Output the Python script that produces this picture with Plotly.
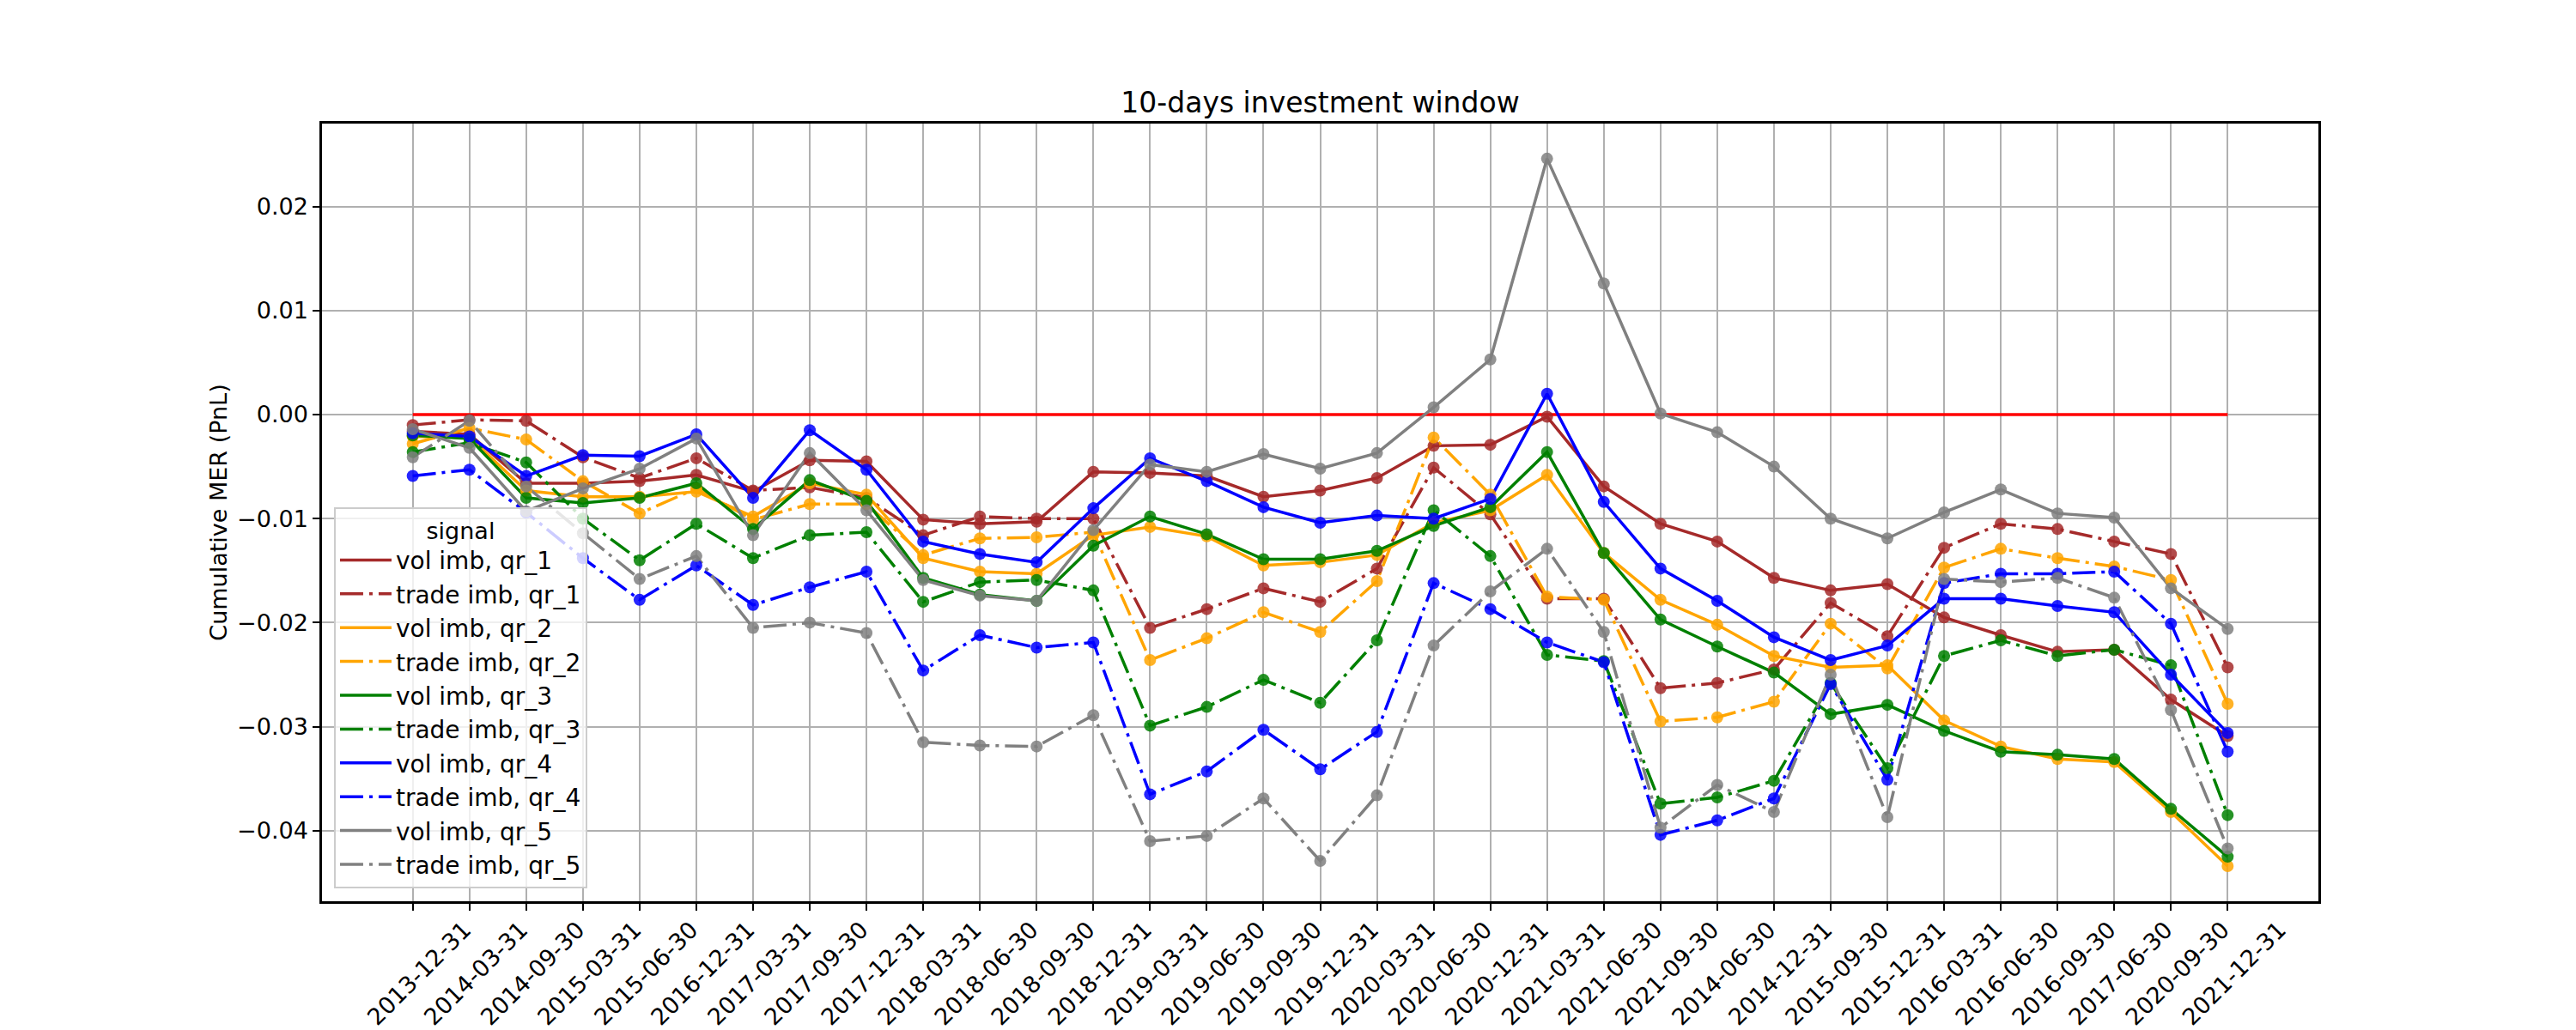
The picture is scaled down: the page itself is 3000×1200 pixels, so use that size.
import plotly.graph_objects as go

# Fechas (eje categórico, en el orden del gráfico original)
dates = ["2013-12-31", "2014-03-31", "2014-09-30", "2015-03-31", "2015-06-30",
         "2016-12-31", "2017-03-31", "2017-09-30", "2017-12-31", "2018-03-31",
         "2018-06-30", "2018-09-30", "2018-12-31", "2019-03-31", "2019-06-30",
         "2019-09-30", "2019-12-31", "2020-03-31", "2020-06-30", "2020-12-31",
         "2021-03-31", "2021-06-30", "2021-09-30", "2014-06-30", "2014-12-31",
         "2015-09-30", "2015-12-31", "2016-03-31", "2016-06-30", "2016-09-30",
         "2017-06-30", "2020-09-30", "2021-12-31"]

# Cumulative MER por señal y quintil
vol_qr_1 = [-0.0016, -0.0019, -0.0066, -0.0066, -0.0064, -0.0058, -0.0074, -0.0044, -0.0045, -0.0101,
            -0.0105, -0.0103, -0.0055, -0.0056, -0.0059, -0.0079, -0.0073, -0.0061, -0.0030, -0.0029,
            -0.0002, -0.0069, -0.0105, -0.0122, -0.0157, -0.0169, -0.0163, -0.0195, -0.0212, -0.0228,
            -0.0226, -0.0274, -0.0309]
trade_qr_1 = [-0.0010, -0.0005, -0.0006, -0.0041, -0.0061, -0.0042, -0.0073, -0.0070, -0.0080, -0.0116,
              -0.0098, -0.0100, -0.0100, -0.0205, -0.0187, -0.0167, -0.0180, -0.0148, -0.0051, -0.0096,
              -0.0177, -0.0177, -0.0263, -0.0258, -0.0245, -0.0181, -0.0213, -0.0128, -0.0105, -0.0110,
              -0.0122, -0.0134, -0.0243]
vol_qr_2 = [-0.0021, -0.0022, -0.0073, -0.0079, -0.0079, -0.0074, -0.0098, -0.0066, -0.0077, -0.0138,
            -0.0151, -0.0153, -0.0116, -0.0108, -0.0117, -0.0145, -0.0142, -0.0135, -0.0104, -0.0092,
            -0.0058, -0.0133, -0.0178, -0.0202, -0.0232, -0.0243, -0.0241, -0.0294, -0.0319, -0.0331,
            -0.0334, -0.0382, -0.0434]
trade_qr_2 = [-0.0028, -0.0013, -0.0024, -0.0064, -0.0095, -0.0071, -0.0101, -0.0086, -0.0086, -0.0135,
              -0.0119, -0.0118, -0.0113, -0.0236, -0.0215, -0.0190, -0.0209, -0.0160, -0.0022, -0.0077,
              -0.0175, -0.0178, -0.0295, -0.0291, -0.0276, -0.0201, -0.0244, -0.0147, -0.0129, -0.0138,
              -0.0146, -0.0159, -0.0278]
vol_qr_3 = [-0.0020, -0.0023, -0.0080, -0.0085, -0.0080, -0.0066, -0.0110, -0.0063, -0.0083, -0.0157,
            -0.0173, -0.0179, -0.0126, -0.0098, -0.0115, -0.0139, -0.0139, -0.0131, -0.0107, -0.0089,
            -0.0036, -0.0133, -0.0197, -0.0223, -0.0248, -0.0288, -0.0279, -0.0304, -0.0324, -0.0327,
            -0.0331, -0.0379, -0.0425]
trade_qr_3 = [-0.0036, -0.0027, -0.0046, -0.0100, -0.0140, -0.0105, -0.0138, -0.0116, -0.0113, -0.0180,
              -0.0161, -0.0159, -0.0169, -0.0299, -0.0281, -0.0255, -0.0277, -0.0217, -0.0092, -0.0136,
              -0.0231, -0.0237, -0.0374, -0.0368, -0.0352, -0.0258, -0.0340, -0.0232, -0.0217, -0.0232,
              -0.0226, -0.0241, -0.0385]
vol_qr_4 = [-0.0018, -0.0021, -0.0059, -0.0039, -0.0040, -0.0019, -0.0080, -0.0015, -0.0053, -0.0122,
            -0.0134, -0.0142, -0.0090, -0.0042, -0.0064, -0.0089, -0.0104, -0.0097, -0.0100, -0.0081,
            0.0020, -0.0084, -0.0148, -0.0179, -0.0214, -0.0236, -0.0222, -0.0177, -0.0177, -0.0184,
            -0.0190, -0.0250, -0.0306]
trade_qr_4 = [-0.0059, -0.0053, -0.0094, -0.0138, -0.0178, -0.0145, -0.0183, -0.0166, -0.0151, -0.0246,
              -0.0212, -0.0224, -0.0219, -0.0365, -0.0343, -0.0303, -0.0341, -0.0305, -0.0162, -0.0187,
              -0.0219, -0.0238, -0.0404, -0.0390, -0.0369, -0.0259, -0.0351, -0.0162, -0.0153, -0.0153,
              -0.0151, -0.0201, -0.0324]
vol_qr_5 = [-0.0014, -0.0032, -0.0093, -0.0071, -0.0052, -0.0023, -0.0116, -0.0037, -0.0092, -0.0159,
            -0.0174, -0.0179, -0.0111, -0.0048, -0.0055, -0.0038, -0.0052, -0.0037, 0.0007, 0.0053,
            0.0246, 0.0126, 0.0001, -0.0017, -0.0050, -0.0100, -0.0119, -0.0094, -0.0072, -0.0095,
            -0.0099, -0.0167, -0.0206]
trade_qr_5 = [-0.0041, -0.0006, -0.0069, -0.0114, -0.0158, -0.0136, -0.0205, -0.0200, -0.0210, -0.0315,
              -0.0318, -0.0319, -0.0289, -0.0410, -0.0405, -0.0369, -0.0429, -0.0366, -0.0222, -0.0170,
              -0.0129, -0.0209, -0.0397, -0.0356, -0.0382, -0.0250, -0.0387, -0.0158, -0.0161, -0.0157,
              -0.0176, -0.0284, -0.0417]

zero_line = [0.0] * len(dates)

y_ticks = [-0.04, -0.03, -0.02, -0.01, 0.0, 0.01, 0.02]
y_tick_labels = ["\u22120.04", "\u22120.03", "\u22120.02", "\u22120.01", "0.00", "0.01", "0.02"]

series = [
    ("vol imb, qr_1", vol_qr_1, "brown", "solid"),
    ("trade imb, qr_1", trade_qr_1, "brown", "dashdot"),
    ("vol imb, qr_2", vol_qr_2, "orange", "solid"),
    ("trade imb, qr_2", trade_qr_2, "orange", "dashdot"),
    ("vol imb, qr_3", vol_qr_3, "green", "solid"),
    ("trade imb, qr_3", trade_qr_3, "green", "dashdot"),
    ("vol imb, qr_4", vol_qr_4, "blue", "solid"),
    ("trade imb, qr_4", trade_qr_4, "blue", "dashdot"),
    ("vol imb, qr_5", vol_qr_5, "gray", "solid"),
    ("trade imb, qr_5", trade_qr_5, "gray", "dashdot"),
]

FONT = "DejaVu Sans"
DASHDOT = "27px,7px,4px,7px"

fig = go.Figure()

# Línea de referencia en cero
fig.add_trace(go.Scatter(x=dates, y=zero_line, mode="lines",
                         line=dict(color="red", width=3.5), showlegend=False, hoverinfo="skip"))

# Líneas (con leyenda)
for name, vals, color, style in series:
    fig.add_trace(go.Scatter(
        x=dates, y=vals, mode="lines", name=name,
        line=dict(color=color, width=3.5, dash=DASHDOT if style == "dashdot" else "solid"),
    ))

# Marcadores (sin leyenda)
for name, vals, color, style in series:
    fig.add_trace(go.Scatter(
        x=dates, y=vals, mode="markers", showlegend=False,
        marker=dict(color=color, size=14, opacity=0.85, line=dict(width=0)),
    ))

# el body de la página tiene 8px de margen: la figura se reduce para que quepa en la ventana
fig.update_layout(
    width=2992, height=1192,
    margin=dict(l=367, r=300, t=136, b=150, autoexpand=False),
    paper_bgcolor="white", plot_bgcolor="white",
    font=dict(family=FONT, size=27, color="black"),
    title=dict(text="10-days investment window", x=0.5, xref="paper", xanchor="center",
               y=1 - 111 / 1192, yref="container", yanchor="middle",
               font=dict(family=FONT, size=33, color="black")),
    legend=dict(
        title=dict(text="signal", side="top center", font=dict(size=27)),
        x=0.006, y=0.017, xanchor="left", yanchor="bottom",
        bgcolor="rgba(255,255,255,0.8)", bordercolor="#cccccc", borderwidth=2,
        font=dict(size=28), itemwidth=60, tracegroupgap=0,
    ),
    showlegend=True,
)

# etiquetas giradas 45° y centradas en la marca (como en el original)
fig.update_xaxes(
    type="category", range=[-1.6, len(dates) - 1 + 1.6], automargin=False,
    tickangle=-45, ticklabelshift=60, ticklabelstandoff=-4,
    ticks="outside", ticklen=8, tickwidth=2, tickcolor="black",
    showgrid=True, gridcolor="#b0b0b0", gridwidth=2,
    showline=True, linecolor="black", linewidth=2.5, mirror=True,
    tickfont=dict(size=27), zeroline=False,
)
fig.update_yaxes(
    range=[-0.04678, 0.02797], automargin=False,
    tickvals=y_ticks, ticktext=y_tick_labels,
    ticks="outside", ticklen=8, tickwidth=2, tickcolor="black",
    showgrid=True, gridcolor="#b0b0b0", gridwidth=2,
    showline=True, linecolor="black", linewidth=2.5, mirror=True,
    zeroline=False, tickfont=dict(size=27),
    title=dict(text="Cumulative MER (PnL)", standoff=4, font=dict(size=27)),
)

fig.write_html("out.html")
